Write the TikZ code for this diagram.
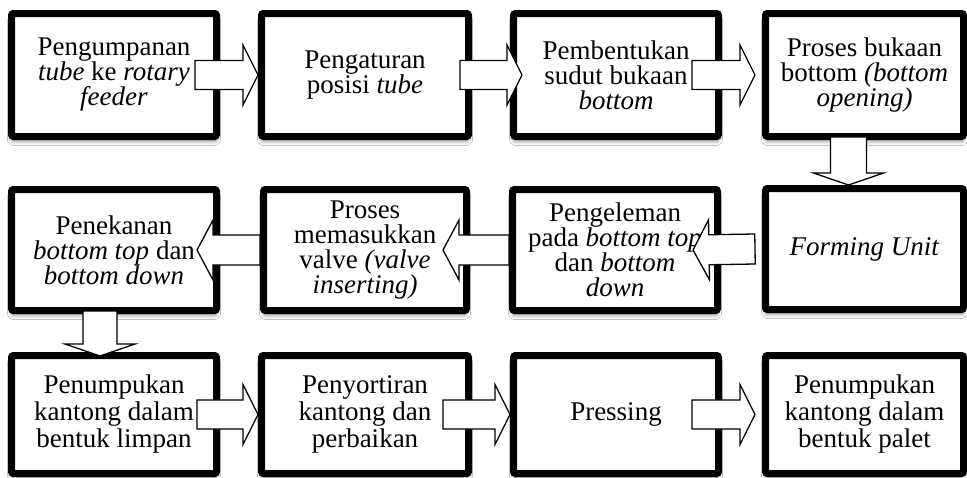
\documentclass[tikz,border=0pt]{standalone}
\usepackage{fontspec}
\setmainfont{Liberation Serif}
\usetikzlibrary{calc,shadows.blur}

\tikzset{
  proses/.style={draw, line width=7pt, rounded corners=2pt, fill=white,
    minimum width=205pt, minimum height=123pt, inner sep=1pt, align=center,
    font=\fontsize{27}{25}\selectfont,
    blur shadow={shadow xshift=0pt, shadow yshift=-5pt, shadow blur radius=4pt, shadow opacity=40}},
  blok/.style={draw, fill=white, line width=1.3pt, line join=miter}
}

% ekor, ujung, setengah badan, setengah kepala, panjang kepala
\newcommand{\blokpanah}[5]{%
  \coordinate (ekor) at (#1);
  \coordinate (ujung) at (#2);
  \coordinate (pb) at ($(ujung)!#5!(ekor)$);
  \draw[blok] ($(ekor)!#3!90:(ujung)$) -- ($(pb)!#3!90:(ujung)$) -- ($(pb)!#4!90:(ujung)$) -- (ujung)
    -- ($(pb)!#4!-90:(ujung)$) -- ($(pb)!#3!-90:(ujung)$) -- ($(ekor)!#3!-90:(ujung)$) -- cycle;
}

\begin{document}
\begin{tikzpicture}[x=1pt,y=-1pt]
  \useasboundingbox[fill=white] (0,0) rectangle (967,477);

  % baris atas
  \node[proses] (p1) at (114,75) {Pengumpanan\\\textit{tube} ke \textit{rotary}\\\textit{feeder}};
  \node[proses, minimum width=207pt] (p2) at (365,75) {Pengaturan\\posisi \textit{tube}};
  \node[proses] (p3) at (616,75) {Pembentukan\\sudut bukaan\\\textit{bottom}};
  \node[proses, minimum width=198pt] (p4) at (864.5,75) {Proses bukaan\\bottom \textit{(bottom}\\\textit{opening)}};

  % baris tengah
  \node[proses, minimum width=198pt, minimum height=121pt] (p5) at (864.5,249) {\textit{Forming Unit}};
  \node[proses, minimum height=121pt] (p6) at (615,250) {Pengeleman\\pada \textit{bottom top}\\dan \textit{bottom}\\\textit{down}};
  \node[proses, minimum width=203pt, minimum height=121pt] (p7) at (365,250) {Proses\\memasukkan\\valve \textit{(valve}\\\textit{inserting)}};
  \node[proses, minimum height=121pt] (p8) at (114,250) {Penekanan\\\textit{bottom top} dan\\\textit{bottom down}};

  % baris bawah
  \node[proses, minimum height=118pt, font=\fontsize{27}{27}\selectfont] (p9) at (114,414.5) {Penumpukan\\kantong dalam\\bentuk limpan};
  \node[proses, minimum width=207pt, minimum height=118pt, font=\fontsize{27}{27}\selectfont] (p10) at (365,414.5) {Penyortiran\\kantong dan\\perbaikan};
  \node[proses, minimum height=118pt, font=\fontsize{27}{27}\selectfont] (p11) at (616,414.5) {Pressing};
  \node[proses, minimum width=198pt, minimum height=118pt, font=\fontsize{27}{27}\selectfont] (p12) at (864.5,414.5) {Penumpukan\\kantong dalam\\bentuk palet};

  % panah
  \blokpanah{$(p1.east)+(-25,0)$}{p2.west}{14.5pt}{30pt}{15pt}
  \blokpanah{$(p2.east)+(-12,0)$}{$(p3.west)+(12,0)$}{14.5pt}{30pt}{15pt}
  \blokpanah{$(p3.east)+(-30,0)$}{$(p4.west)+(-7,0)$}{14.5pt}{30pt}{15pt}
  \blokpanah{$(p4.south)+(-16,-3)$}{$(p5.north)+(-16,0)$}{18pt}{35pt}{12pt}
  \blokpanah{$(p5.west)+(-7,0)$}{$(p6.east)+(-28,0)$}{15pt}{30pt}{16pt}
  \blokpanah{p6.west}{$(p7.east)+(-27,0)$}{15pt}{30pt}{16pt}
  \blokpanah{p7.west}{$(p8.east)+(-23,0)$}{15pt}{30pt}{16pt}
  \blokpanah{$(p8.south)+(-14,-3)$}{$(p9.north)+(-14,4)$}{17pt}{35pt}{12pt}
  \blokpanah{$(p9.east)+(-23,0)$}{p10.west}{14.5pt}{30pt}{15pt}
  \blokpanah{$(p10.east)+(-29,0)$}{p11.west}{14.5pt}{30pt}{15pt}
  \blokpanah{$(p11.east)+(-30,0)$}{$(p12.west)+(-7,0)$}{14.5pt}{30pt}{15pt}
\end{tikzpicture}
\end{document}
